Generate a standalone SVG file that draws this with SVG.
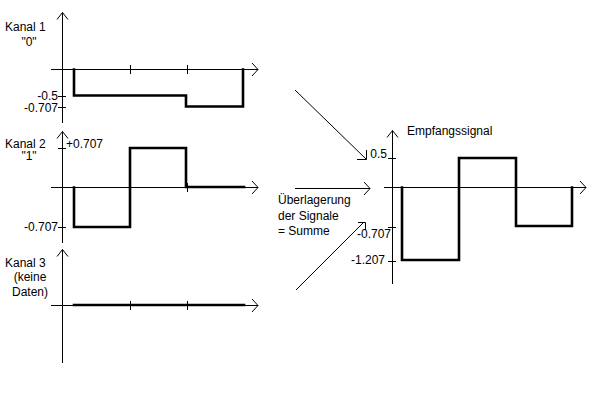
<svg xmlns="http://www.w3.org/2000/svg" width="600" height="400" viewBox="0 0 600 400">
<style>
.ax{fill:none;stroke:#000;stroke-width:1}
.sig{fill:none;stroke:#000;stroke-width:2.6;stroke-linejoin:miter;stroke-linecap:square}
.arr{fill:none;stroke:#000;stroke-width:1}
text{font-family:"Liberation Sans",Arial,sans-serif;font-size:12px;fill:#000}
.m{text-anchor:middle}
.r{text-anchor:end}
</style>
<rect width="600" height="400" fill="#fff"/>
<g id="kanal1">
<path class="ax" d="M62.5 12.5V123 M57 19.5L62.5 12.5L68 19.5 M51 69.5H258 M252 63L258 69.5L252 76 M130.5 65V74 M187.5 65V74 M58 96.5H66 M58 107.5H66"/>
<path class="sig" d="M74 69.5V95.5H186V106.5H243V69.5"/>
<text x="5" y="31">Kanal 1</text>
<text x="29" y="46" class="m">"0"</text>
<text x="58" y="100" class="r">-0.5</text>
<text x="58" y="112" class="r">-0.707</text>
</g>
<g id="kanal2">
<path class="ax" d="M62.5 131.5V243 M57 138.5L62.5 131.5L68 138.5 M51 187.5H258 M252 181L258 187.5L252 194 M130.5 183V192 M187.5 183V192 M58 148.5H66 M58 227.5H66"/>
<path class="sig" d="M74 187.5V227H130V148H186V187H244"/>
<text x="5" y="148">Kanal 2</text>
<text x="29" y="160" class="m">"1"</text>
<text x="66" y="148">+0.707</text>
<text x="58" y="231" class="r">-0.707</text>
</g>
<g id="kanal3">
<path class="ax" d="M62.5 249.5V363 M57 256.5L62.5 249.5L68 256.5 M51 305.5H258 M252 299L258 305.5L252 312 M130.5 301V310 M187.5 301V310"/>
<path class="sig" d="M74 305H244"/>
<text x="5" y="267">Kanal 3</text>
<text x="30" y="281" class="m">(keine</text>
<text x="30" y="296" class="m">Daten)</text>
</g>
<g id="empfang">
<path class="ax" d="M392.5 130.5V284 M387 137.5L392.5 130.5L398 137.5 M384 187.5H586 M580 181L586 187.5L580 194 M388 158.5H396 M388 227.5H396 M388 261.5H396"/>
<path class="sig" d="M402 187.5V260H459V158H516V226H572V187.5"/>
<text x="407" y="135">Empfangssignal</text>
<text x="387" y="158" class="r">0.5</text>
<text x="391" y="238" class="r">-0.707</text>
<text x="385" y="264" class="r">-1.207</text>
</g>
<g id="label">
<text x="278" y="204">Überlagerung</text>
<text x="278" y="220">der Signale</text>
<text x="278" y="235">= Summe</text>
</g>
<g id="connectors">
<path class="arr" d="M295 90L366 159 M357 159.5H366.5V150"/>
<path class="arr" d="M295 188.5H370 M364 182L370 188.5L364 195"/>
<path class="arr" d="M296 290L364 222 M358 222.5H365.5V230"/>
</g>
</svg>
